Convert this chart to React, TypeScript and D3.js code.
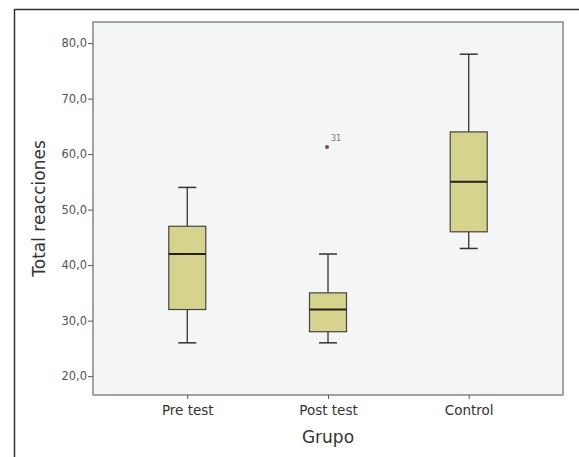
import React, { useEffect, useRef } from 'react';
import * as d3 from 'd3';

const categories = ['Pre test', 'Post test', 'Control'];
const whiskerLow = [26, 26, 43];
const q1 = [32, 28, 46];
const medians = [42, 32, 55];
const q3 = [47, 35, 64];
const whiskerHigh = [54, 42, 78];
const outlierGroup = ['Post test'];
const outlierValue = [61.3];
const outlierLabel = ['31'];
const yTicks = [20, 30, 40, 50, 60, 70, 80];

const W = 579;
const H = 457;

export default function App() {
  const ref = useRef<SVGSVGElement>(null);

  useEffect(() => {
    const svg = d3.select(ref.current);
    svg.selectAll('*').remove();

    const left = 93, right = 563, top = 22, bottom = 395;
    const font = '"DejaVu Sans", sans-serif';

    // outer frame, open on the right and bottom
    svg.append('path')
      .attr('d', `M14.5,${H} L14.5,9.5 L${W},9.5`)
      .attr('fill', 'none')
      .attr('stroke', '#333')
      .attr('stroke-width', 1.5);

    let y = d3.scaleLinear().domain([16.6, 83.8]).range([bottom, top]);
    let x = d3.scalePoint().domain(categories).range([left, right]).padding(0.67);

    svg.append('rect')
      .attr('x', left).attr('y', top)
      .attr('width', right - left).attr('height', bottom - top)
      .attr('fill', '#f4f6f6')
      .attr('stroke', '#8c8282')
      .attr('stroke-width', 1.5);

    let yAxis = d3.axisLeft(y).tickValues(yTicks).tickSize(5)
      .tickFormat(d => d3.format('.1f')(d as number).replace('.', ','));
    let gy = svg.append('g').attr('transform', `translate(${left},0)`).call(yAxis);
    gy.select('.domain').remove();
    gy.selectAll('line').attr('stroke', '#555');
    gy.selectAll('text').attr('fill', '#555').style('font-family', font).style('font-size', '11.5px').attr('x', -6);

    let xAxis = d3.axisBottom(x).tickSize(4).tickSizeOuter(0);
    let gx = svg.append('g').attr('transform', `translate(0,${bottom})`).call(xAxis);
    gx.select('.domain').remove();
    gx.selectAll('line').attr('stroke', '#555');
    gx.selectAll('text').attr('fill', '#333').style('font-family', font).style('font-size', '13.5px').attr('dy', '0.95em');

    const boxW = 37;
    const capW = 18;
    const g = svg.append('g');
    categories.forEach((c, i) => {
      const cx = x(c) as number;
      g.append('line')
        .attr('x1', cx).attr('x2', cx)
        .attr('y1', y(whiskerLow[i])).attr('y2', y(whiskerHigh[i]))
        .attr('stroke', '#333').attr('stroke-width', 1.3);
      [whiskerLow[i], whiskerHigh[i]].forEach(v => {
        g.append('line')
          .attr('x1', cx - capW / 2).attr('x2', cx + capW / 2)
          .attr('y1', y(v)).attr('y2', y(v))
          .attr('stroke', '#333').attr('stroke-width', 1.5);
      });
      g.append('rect')
        .attr('x', cx - boxW / 2).attr('width', boxW)
        .attr('y', y(q3[i])).attr('height', y(q1[i]) - y(q3[i]))
        .attr('fill', '#d6d38c').attr('stroke', '#444').attr('stroke-width', 1.2);
      g.append('line')
        .attr('x1', cx - boxW / 2).attr('x2', cx + boxW / 2)
        .attr('y1', y(medians[i])).attr('y2', y(medians[i]))
        .attr('stroke', '#222').attr('stroke-width', 2);
    });

    outlierGroup.forEach((c, i) => {
      const cx = x(c) as number;
      g.append('circle')
        .attr('cx', cx - 1).attr('cy', y(outlierValue[i]))
        .attr('r', 2).attr('fill', '#6a5050');
      g.append('text')
        .attr('x', cx + 3).attr('y', y(outlierValue[i]) - 6)
        .attr('fill', '#777').style('font-family', font).style('font-size', '8px')
        .text(outlierLabel[i]);
    });

    svg.append('text')
      .attr('transform', `translate(45,${(top + bottom) / 2}) rotate(-90)`)
      .attr('text-anchor', 'middle')
      .attr('fill', '#333').style('font-family', font).style('font-size', '17px')
      .text('Total reacciones');

    svg.append('text')
      .attr('x', x('Post test') as number).attr('y', 443)
      .attr('text-anchor', 'middle')
      .attr('fill', '#333').style('font-family', font).style('font-size', '17px')
      .text('Grupo');
  }, []);

  return (
    <svg ref={ref} width={W} height={H} style={{ position: 'absolute', left: 0, top: 0, background: '#fff' }} />
  );
}
